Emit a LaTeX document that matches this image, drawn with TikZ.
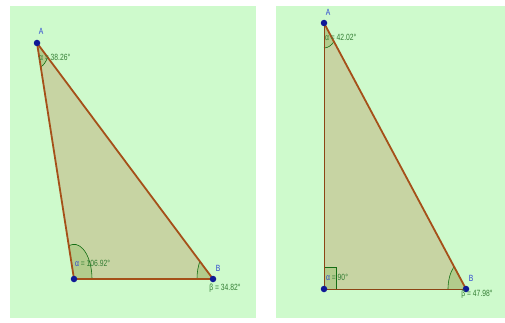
\documentclass[tikz,border=0pt]{standalone}
\usepackage{fontspec}
\setmainfont{Liberation Sans}
\definecolor{bggreen}{RGB}{206,250,204}
\definecolor{trifill}{RGB}{199,212,163}
\definecolor{edgebrown}{RGB}{165,80,25}
\definecolor{ptblue}{RGB}{15,25,150}
\definecolor{arcgreen}{RGB}{20,110,20}
\definecolor{angfill}{RGB}{178,204,140}
\definecolor{txtgreen}{RGB}{50,125,50}
\definecolor{lblblue}{RGB}{45,70,210}
\tikzset{
  panel/.style={fill=bggreen, draw=none},
  tri/.style={fill=trifill, draw=none},
  thickedge/.style={draw=edgebrown, line width=1.8pt},
  thinedge/.style={draw=edgebrown!85!black, line width=0.8pt},
  vpt/.style={circle, fill=ptblue, inner sep=0pt, minimum size=6.5pt},
  angsec/.style={fill=angfill, draw=none},
  angarc/.style={draw=arcgreen, line width=0.6pt},
  vlbl/.style={text=lblblue, font=\fontsize{9}{10}\selectfont, inner sep=0pt, xscale=0.75},
  alab/.style={text=txtgreen, font=\fontsize{9}{10}\selectfont, inner sep=0pt, xscale=0.75}
}
\begin{document}
\begin{tikzpicture}[x=1pt,y=1pt]
\useasboundingbox[fill=white] (0,0) rectangle (505,322);
% panels
\path[panel] (10,4) rectangle (256,316);
\path[panel] (276,4) rectangle (505,316);

% ---------- left triangle ----------
\coordinate (lA) at (37,279);
\coordinate (lC) at (74,43);
\coordinate (lB) at (213,43);
\path[tri] (lA) -- (lC) -- (lB) -- cycle;
% angle sectors
\path[angsec] (lA) -- ++(-73.2:13 and 25) arc[start angle=-73.2, end angle=-34.8, x radius=13, y radius=25] -- cycle;
\draw[angarc] (lA) ++(-73.2:13 and 25) arc[start angle=-73.2, end angle=-34.8, x radius=13, y radius=25];
\path[angsec] (lC) -- ++(0:18 and 34.7) arc[start angle=0, end angle=106.8, x radius=18, y radius=34.7] -- cycle;
\draw[angarc] (lC) ++(0:18 and 34.7) arc[start angle=0, end angle=106.8, x radius=18, y radius=34.7];
\path[angsec] (lB) -- ++(145.2:16 and 31) arc[start angle=145.2, end angle=180, x radius=16, y radius=31] -- cycle;
\draw[angarc] (lB) ++(145.2:16 and 31) arc[start angle=145.2, end angle=180, x radius=16, y radius=31];
% edges
\draw[thickedge] (lA) -- (lC);
\draw[thickedge] (lC) -- (lB);
\draw[thickedge] (lB) -- (lA);
% points
\node[vpt] (lpA) at (lA) {};
\node[vpt] (lpC) at (lC) {};
\node[vpt] (lpB) at (lB) {};
% labels
\node[vlbl] (lAl) at (41,291) {A};
\node[vlbl] (lBl) at (218,54) {B};
\node[alab, anchor=west] (lal) at (39,265) {α = 38.26°};
\node[alab, anchor=west] (lcl) at (75,59) {\textcolor{lblblue}{α} = 106.92°};
\node[alab] (lbl) at (225,34) {β = 34.82°};

% ---------- right triangle ----------
\coordinate (rA) at (324,299);
\coordinate (rC) at (324,33);
\coordinate (rB) at (466,33);
\path[tri] (rA) -- (rC) -- (rB) -- cycle;
\path[angsec] (rA) -- ++(-90:15 and 25) arc[start angle=-90, end angle=-47.9, x radius=15, y radius=25] -- cycle;
\draw[angarc] (rA) ++(-90:15 and 25) arc[start angle=-90, end angle=-47.9, x radius=15, y radius=25];
\path[angsec] (rB) -- ++(132.1:18 and 30) arc[start angle=132.1, end angle=180, x radius=18, y radius=30] -- cycle;
\draw[angarc] (rB) ++(132.1:18 and 30) arc[start angle=132.1, end angle=180, x radius=18, y radius=30];
\filldraw[fill=angfill, draw=arcgreen, line width=0.6pt] (rC) rectangle ++(12,22);
\draw[thinedge] (rA) -- (rC);
\draw[thinedge] (rC) -- (rB);
\draw[thickedge] (rB) -- (rA);
\node[vpt] (rpA) at (rA) {};
\node[vpt] (rpC) at (rC) {};
\node[vpt] (rpB) at (rB) {};
\node[vlbl] (rAl) at (328,310) {A};
\node[vlbl] (rBl) at (471,44) {B};
\node[alab, anchor=west] (ral) at (325,285) {α = 42.02°};
\node[alab, anchor=west] (rcl) at (326,45) {\textcolor{lblblue}{α} = 90°};
\node[alab] (rbl) at (477,28) {β = 47.98°};
\end{tikzpicture}
\end{document}
